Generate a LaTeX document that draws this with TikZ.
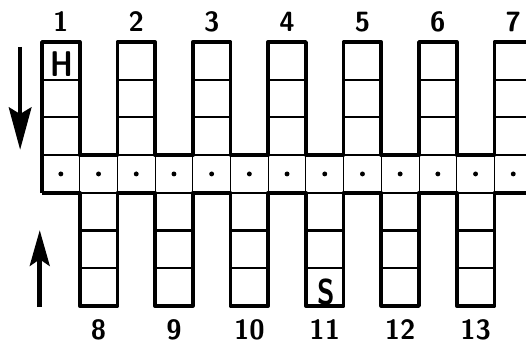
\documentclass[tikz,border=0pt]{standalone}
\usetikzlibrary{arrows.meta}

\begin{document}
\begin{tikzpicture}[x=1cm, y=1cm, line width=0.8pt,
  rim/.style={line width=2.8pt, line join=round},
  rung/.style={line width=1.6pt},
  seam/.style={line width=0.7pt},
  num/.style={font=\sffamily\bfseries\fontsize{21}{21}\selectfont},
  clue/.style={font=\sffamily\bfseries\fontsize{27}{27}\selectfont, xscale=0.8}]
  \clip (-1.114,1.114) rectangle (12.838,-8.064);
  \draw[rim] (0,-4) \foreach \k in {0,...,6} { -- (2*\k,0) -- (2*\k+1,0) -- (2*\k+1,-3) -- (2*\k+2,-3) };
  \draw[rim] (0,-4) \foreach \k in {0,...,5} { -- (2*\k+1,-4) -- (2*\k+1,-7) -- (2*\k+2,-7) -- (2*\k+2,-4) } -- (14,-4);
  \foreach \k in {0,...,6} {
    \draw[rung] (2*\k,-1) -- (2*\k+1,-1) (2*\k,-2) -- (2*\k+1,-2) (2*\k,-3) -- (2*\k+1,-3);
    \node[num] (top\k) at (2*\k+0.5,0.53) {\pgfmathparse{int(\k+1)}\pgfmathresult};
  }
  \foreach \k in {0,...,5} {
    \draw[rung] (2*\k+1,-4) -- (2*\k+2,-4) (2*\k+1,-5) -- (2*\k+2,-5) (2*\k+1,-6) -- (2*\k+2,-6);
    \node[num] (bot\k) at (2*\k+1.5,-7.64) {\pgfmathparse{int(\k+8)}\pgfmathresult};
  }
  \foreach \i in {1,...,13} \draw[seam] (\i,-3) -- (\i,-4);
  \foreach \i in {0,...,12} \fill (\i+0.5,-3.5) circle (0.065);
  \node[clue] (lettH) at (0.54,-0.58) {H};
  \node[clue] (lettS) at (7.53,-6.63) {S};
  \coordinate (downtail) at (-0.58,-0.13);
  \coordinate (downtip) at (-0.58,-2.86);
  \coordinate (uptail) at (-0.06,-7.03);
  \coordinate (uptip) at (-0.06,-4.99);
  \draw[line width=3.4pt, -{Stealth[length=32pt, width=17pt, inset=5pt]}] (downtail) -- (downtip);
  \draw[line width=3.4pt, -{Stealth[length=27pt, width=15pt, inset=5pt]}] (uptail) -- (uptip);
\end{tikzpicture}
\end{document}
